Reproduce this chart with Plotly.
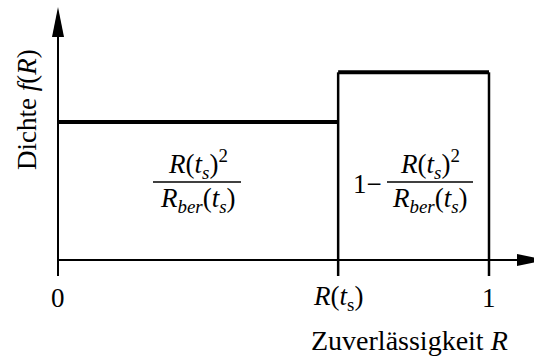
import plotly.graph_objects as go

# Piecewise-constant density of the reliability R
R_ts = 0.65                      # position of R(t_s) on the reliability axis
segment_edges = [0.0, R_ts, 1.0]  # interval borders
density = [1.0, 1.36]            # f(R) on [0, R(t_s)] and [R(t_s), 1]
tick_vals = [0.0, R_ts, 1.0]
tick_text = ["0", "<i>R</i>(<i>t</i><sub>s</sub>)", "1"]
x_title = "Zuverlässigkeit <i>R</i>"
y_title = "Dichte <i>f</i>(<i>R</i>)"
frac_num = "<i>R</i>(<i>t<sub>s</sub></i>)<sup>2</sup>"
frac_den = "<i>R<sub>ber</sub></i>(<i>t<sub>s</sub></i>)"

W, H = 534, 357
X0_PX, X1_PX = 58, 489          # pixel columns of R=0 and R=1
Y0_PX, UNIT_PX = 260, 138       # pixel row of f=0, pixels per density unit
sx = (X1_PX - X0_PX)


def px_x(px):
    return (px - X0_PX) / sx


def px_y(py):
    return (Y0_PX - py) / UNIT_PX


FONT = "Liberation Serif"
FS = 27
tick_len = px_y(Y0_PX) - px_y(Y0_PX + 16)
y_top = px_y(7)
x_end = px_x(547)

fig = go.Figure()
black = "black"

# axes
fig.add_trace(go.Scatter(x=[0, 0], y=[-tick_len, y_top - px_y(0) + px_y(30)], mode="lines",
                         line=dict(color=black, width=2), hoverinfo="skip"))
fig.add_trace(go.Scatter(x=[0, x_end - (px_x(30) - px_x(0))], y=[0, 0], mode="lines",
                         line=dict(color=black, width=2), hoverinfo="skip"))

# tick marks
for tv in tick_vals[1:]:
    fig.add_trace(go.Scatter(x=[tv, tv], y=[-tick_len, 0], mode="lines",
                             line=dict(color=black, width=2.5), hoverinfo="skip"))

# density segments: horizontal levels
for i, d in enumerate(density):
    fig.add_trace(go.Scatter(x=[segment_edges[i], segment_edges[i + 1]], y=[d, d], mode="lines",
                             line=dict(color=black, width=4), hoverinfo="skip"))
# vertical borders of the higher segment
for xe in segment_edges[1:]:
    fig.add_trace(go.Scatter(x=[xe, xe], y=[0, density[1]], mode="lines",
                             line=dict(color=black, width=2.5), hoverinfo="skip"))

shapes = [
    # arrowheads (pixel-sized, anchored at the axis ends)
    dict(type="path", xref="x", yref="y", xsizemode="pixel", ysizemode="pixel",
         xanchor=0, yanchor=y_top, path="M -6,-30 L 6,-30 L 0,0 Z",
         fillcolor=black, line=dict(width=0)),
    dict(type="path", xref="x", yref="y", xsizemode="pixel", ysizemode="pixel",
         xanchor=x_end, yanchor=0, path="M -30,-6 L -30,6 L 0,0 Z",
         fillcolor=black, line=dict(width=0)),
]

annotations = []
for tv, tt in zip(tick_vals, tick_text):
    annotations.append(dict(x=tv, y=px_y(298), text=tt, showarrow=False,
                            xanchor="center", yanchor="middle"))
annotations.append(dict(x=px_x(409), y=px_y(340), text=x_title, showarrow=False,
                        font=dict(size=28), xanchor="center", yanchor="middle"))
annotations.append(dict(x=px_x(27), y=px_y(110), text=y_title, showarrow=False,
                        textangle=-90, xanchor="center", yanchor="middle"))

# fraction in the left interval
lc = R_ts / 2
annotations.append(dict(x=lc, y=px_y(164), text=frac_num, showarrow=False,
                        xanchor="center", yanchor="middle"))
annotations.append(dict(x=lc, y=px_y(200), text=frac_den, showarrow=False,
                        xanchor="center", yanchor="middle"))
shapes.append(dict(type="line", xref="x", yref="y", x0=px_x(153), x1=px_x(241),
                   y0=px_y(182), y1=px_y(182), line=dict(color=black, width=1.5)))

# 1 - fraction in the right interval
rc = px_x(430)
annotations.append(dict(x=px_x(367), y=px_y(184), text="1\u2212", showarrow=False,
                        xanchor="center", yanchor="middle"))
annotations.append(dict(x=rc, y=px_y(164), text=frac_num, showarrow=False,
                        xanchor="center", yanchor="middle"))
annotations.append(dict(x=rc, y=px_y(200), text=frac_den, showarrow=False,
                        xanchor="center", yanchor="middle"))
shapes.append(dict(type="line", xref="x", yref="y", x0=px_x(387), x1=px_x(473),
                   y0=px_y(182), y1=px_y(182), line=dict(color=black, width=1.5)))

fig.update_layout(
    width=W, height=H, margin=dict(l=0, r=0, t=0, b=0),
    paper_bgcolor="white", plot_bgcolor="white", showlegend=False,
    font=dict(family=FONT, size=FS, color=black),
    xaxis=dict(range=[px_x(0), px_x(W)], visible=False, fixedrange=True),
    yaxis=dict(range=[px_y(H), px_y(0)], visible=False, fixedrange=True),
    shapes=shapes, annotations=annotations,
)

fig.write_html("out.html", config=dict(displayModeBar=False))
